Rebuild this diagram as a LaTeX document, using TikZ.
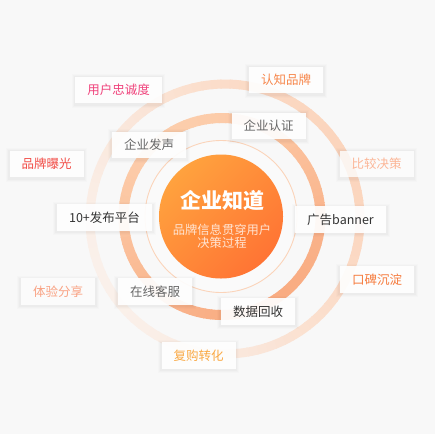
\documentclass[tikz,border=0pt]{standalone}
\usepackage{fontspec}
\setmainfont{Noto Sans CJK SC}
\usetikzlibrary{calc}
\pgfdeclarelayer{bg}
\pgfdeclarelayer{shade}
\pgfsetlayers{bg,shade,main}
\definecolor{bgc}{HTML}{F8F8F8}
\definecolor{oA}{HTML}{FBD5BD}
\definecolor{oB}{HTML}{FAF0EA}
\definecolor{mA}{HTML}{F9AC82}
\definecolor{mB}{HTML}{FCCDAB}
\definecolor{thinc}{HTML}{FBD4BA}
\definecolor{cA}{HTML}{FFA23E}
\definecolor{cB}{HTML}{FF7434}
\definecolor{subc}{HTML}{FFE4D2}
\definecolor{pink}{HTML}{F0437C}
\definecolor{orng}{HTML}{F7864A}
\definecolor{redc}{HTML}{F24B45}
\definecolor{lightor}{HTML}{FBB697}
\definecolor{midor}{HTML}{F67B3D}
\definecolor{peach}{HTML}{F9A283}
\definecolor{yel}{HTML}{FAA944}
\definecolor{greyt}{HTML}{666666}
\definecolor{darkt}{HTML}{333333}
\begin{document}
\begin{tikzpicture}[x=1pt,y=-1pt,
  tag/.style={fill=white, fill opacity=.92, text opacity=1, minimum height=26.5pt,
    inner xsep=12pt, inner ysep=0pt, font=\fontsize{12.5}{15}\selectfont},
  faint/.style={fill opacity=.8}]
\useasboundingbox (0,0) rectangle (435,434);

% background and rings
\begin{pgfonlayer}{bg}
\fill[bgc] (0,0) rectangle (435,434);
\foreach \a in {0,4,...,356}{
  \pgfmathsetmacro\t{50+50*cos(\a+30)}
  \draw[line width=9pt, color=oA!\t!oB] (225,219) ++(\a:135) arc[start angle=\a, end angle=\a+4.6, radius=135];
}
\foreach \a in {0,4,...,356}{
  \pgfmathsetmacro\t{50+50*cos(\a-60)}
  \draw[line width=10pt, color=mA!\t!mB] (222,216.5) ++(\a:98.5) arc[start angle=\a, end angle=\a+4.6, radius=98.5];
}
\fill[white, opacity=.35] (221,216.5) circle[radius=76];
\draw[thinc, line width=0.9pt] (221,216.5) circle[radius=76];
\shade[top color=cA, bottom color=cB, shading angle=45] (221,216.5) circle[radius=62];
\end{pgfonlayer}

\node[text=white, font=\fontsize{21}{23}\selectfont\bfseries] (title) at (222,201) {企业知道};
\node[text=subc, align=center, font=\fontsize{12.3}{13.3}\selectfont] (sub) at (222,236.5) {品牌信息贯穿用户\\决策过程};

\node[tag, text=pink] (n1) at (118.5,90) {用户忠诚度};
\node[tag, text=orng] (n2) at (286,80) {认知品牌};
\node[tag, text=greyt] (n3) at (149,145) {企业发声};
\node[tag, text=greyt] (n4) at (268.5,126) {企业认证};
\node[tag, text=redc] (n5) at (46.5,164) {品牌曝光};
\node[tag, faint, text=lightor] (n6) at (376.5,164) {比较决策};
\node[tag, text=darkt] (n7) at (104.5,217.5) {10+发布平台};
\node[tag, text=darkt] (n8) at (340.5,219.5) {广告banner};
\node[tag, text=midor] (n9) at (377,279.5) {口碑沉淀};
\node[tag, faint, text=peach] (n10) at (58,291.5) {体验分享};
\node[tag, text=greyt] (n11) at (155,291.5) {在线客服};
\node[tag, text=darkt] (n12) at (258,311.5) {数据回收};
\node[tag, text=yel] (n13) at (198.5,355.5) {复购转化};

\begin{pgfonlayer}{shade}
\foreach \n in {n1,n2,n3,n4,n5,n6,n7,n8,n9,n10,n11,n12,n13}{
  \foreach \s/\o in {3.5/0.012,2.5/0.015,1.5/0.018}{
    \fill[black, opacity=\o] ($(\n.north west)+(-\s,-\s+1)$) rectangle ($(\n.south east)+(\s,\s+1)$);
  }
}
\end{pgfonlayer}
\end{tikzpicture}
\end{document}
